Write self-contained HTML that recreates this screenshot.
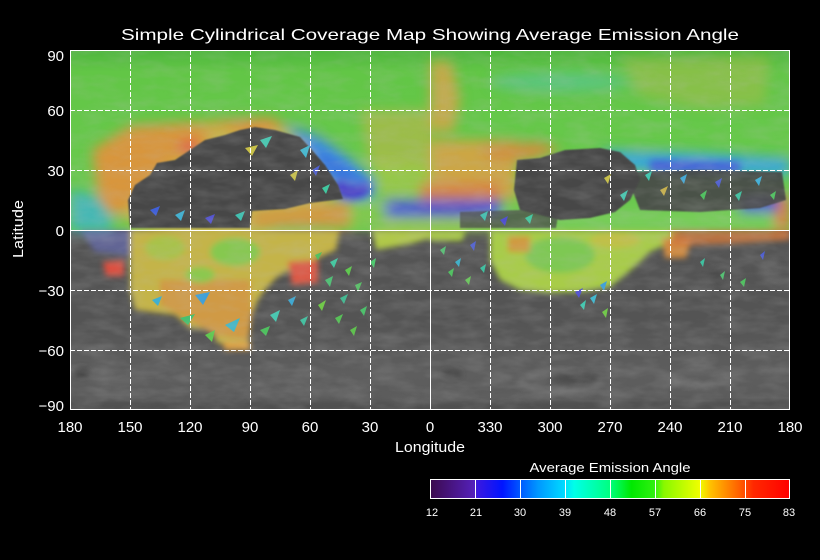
<!DOCTYPE html>
<html><head><meta charset="utf-8"><style>
html,body{margin:0;padding:0;background:#000;}
svg{display:block;}
text{font-family:"Liberation Sans",sans-serif;fill:#fff;}
</style></head><body>
<svg width="820" height="560" viewBox="0 0 820 560" xmlns="http://www.w3.org/2000/svg">
<defs>
<clipPath id="pc"><rect x="70" y="50" width="720" height="360"/></clipPath>
<filter id="b6" x="-20%" y="-20%" width="140%" height="140%"><feGaussianBlur stdDeviation="6"/></filter>
<filter id="b4" x="-20%" y="-20%" width="140%" height="140%"><feGaussianBlur stdDeviation="4"/></filter>
<filter id="b3" x="-20%" y="-20%" width="140%" height="140%"><feGaussianBlur stdDeviation="3"/></filter>
<filter id="b1"><feGaussianBlur stdDeviation="0.8"/></filter>
<filter id="noise" x="0" y="0" width="100%" height="100%">
<feTurbulence type="fractalNoise" baseFrequency="0.035 0.09" numOctaves="3" seed="4"/>
<feColorMatrix type="matrix" values="0 0 0 0 0.5  0 0 0 0 0.5  0 0 0 0 0.5  0 0 1.6 0 -0.55"/>
</filter>
<linearGradient id="gtop" x1="0" y1="0" x2="0" y2="1">
<stop offset="0" stop-color="#4fb63e"/>
<stop offset="0.12" stop-color="#62c646"/>
<stop offset="0.6" stop-color="#68c94c"/>
<stop offset="1" stop-color="#6cc850"/>
</linearGradient>
<linearGradient id="gray" x1="0" y1="0" x2="0" y2="1">
<stop offset="0" stop-color="#575757"/>
<stop offset="0.75" stop-color="#545454"/>
<stop offset="0.9" stop-color="#5e5e5e"/>
<stop offset="1" stop-color="#5a5a5a"/>
</linearGradient>
<linearGradient id="cb" x1="0" y1="0" x2="1" y2="0">
<stop offset="0" stop-color="#3c0a4e"/>
<stop offset="0.12" stop-color="#5420b8"/>
<stop offset="0.13" stop-color="#3a18e0"/>
<stop offset="0.2" stop-color="#0014ff"/>
<stop offset="0.25" stop-color="#0058ff"/>
<stop offset="0.3" stop-color="#0098ff"/>
<stop offset="0.37" stop-color="#00d8ff"/>
<stop offset="0.4" stop-color="#00ffe8"/>
<stop offset="0.5" stop-color="#00ff80"/>
<stop offset="0.56" stop-color="#00e800"/>
<stop offset="0.625" stop-color="#30f010"/>
<stop offset="0.65" stop-color="#88f800"/>
<stop offset="0.75" stop-color="#f0ff00"/>
<stop offset="0.78" stop-color="#ffc000"/>
<stop offset="0.86" stop-color="#ff6000"/>
<stop offset="0.9" stop-color="#ff2800"/>
<stop offset="1" stop-color="#ff0000"/>
</linearGradient>
</defs>

<rect x="0" y="0" width="820" height="560" fill="#000"/>

<g clip-path="url(#pc)">
<rect x="70" y="50" width="720" height="360" fill="url(#gray)"/>
<g filter="url(#b3)" opacity="0.7">
<ellipse cx="560" cy="382" rx="40" ry="9" fill="none" stroke="#7c7c7c" stroke-width="4"/>
<ellipse cx="700" cy="378" rx="28" ry="7" fill="none" stroke="#747474" stroke-width="3"/>
<ellipse cx="120" cy="380" rx="30" ry="4" fill="#6c6c6c"/>
<ellipse cx="300" cy="392" rx="60" ry="4" fill="#686868"/>
<ellipse cx="470" cy="398" rx="90" ry="4" fill="#626262"/>
<ellipse cx="82" cy="372" rx="8" ry="5" fill="#333"/>
<ellipse cx="452" cy="374" rx="10" ry="4" fill="#3c3c3c"/>
<ellipse cx="575" cy="378" rx="25" ry="6" fill="#444"/>
<ellipse cx="720" cy="276" rx="14" ry="8" fill="#4a4a4a"/>
<ellipse cx="770" cy="270" rx="12" ry="10" fill="#666"/>
<rect x="70" y="402" width="720" height="8" fill="#4a4a4a"/>
</g>

<rect x="70" y="50" width="720" height="181" fill="url(#gtop)"/>

<g filter="url(#b6)">
<ellipse cx="215" cy="180" rx="120" ry="58" fill="#c4b64a"/>
<polygon points="92,150 130,126 195,122 215,134 175,160 145,190 122,215 100,212" fill="#d8963e"/>
<polygon points="285,124 322,138 352,160 374,180 374,198 345,200 325,180 305,150" fill="#3f8ee0"/>
<polygon points="383,200 500,200 505,218 383,218" fill="#4a58d4"/>
<ellipse cx="450" cy="209" rx="35" ry="6" fill="#5040c8"/>
<polygon points="252,211 290,208 343,200 352,203 352,228 252,228" fill="#d09a44"/>
<polygon points="350,200 385,200 385,228 350,228" fill="#80c850"/>
<polygon points="383,217 500,217 500,230 383,230" fill="#98c850"/>
<polygon points="70,190 96,195 112,216 112,231 70,231" fill="#44b8b4"/>
<polygon points="360,110 430,110 430,168 370,170" fill="#b4b84a" opacity="0.7"/>
<polygon points="372,160 430,165 430,198 378,196" fill="#a8c84a" opacity="0.7"/>
<polygon points="430,140 517,140 517,200 430,198" fill="#cca644"/>
<polygon points="420,184 500,182 500,199 420,199" fill="#d8803f"/>
<polygon points="430,60 452,62 460,100 454,132 430,132" fill="#c2aa48"/>
<polygon points="620,58 770,55 765,105 700,108 640,96" fill="#a6bc4a" opacity="0.55"/>
<ellipse cx="560" cy="82" rx="70" ry="10" fill="#58c4a2" opacity="0.6"/>
<polygon points="480,145 540,142 562,150 530,160 490,160" fill="#d09040"/>
<polygon points="600,150 700,153 790,158 790,176 700,173 630,171 610,160" fill="#3aa8d8"/>
<polygon points="500,210 790,210 790,231 500,231" fill="#78cc5a"/>
<polygon points="775,195 790,195 790,231 775,231" fill="#d88040"/>
<polygon points="740,195 778,195 778,212 740,212" fill="#5050d0"/>
<polygon points="200,122 270,118 290,128 250,134" fill="#e08c40"/>
<ellipse cx="190" cy="148" rx="12" ry="8" fill="#e0604a"/>
</g>
<g filter="url(#b4)">
<ellipse cx="352" cy="188" rx="18" ry="11" fill="#4e40c8"/>
<polygon points="318,150 345,165 368,185 350,185 325,170" fill="#3a78dc"/>
<polygon points="650,160 740,162 740,172 650,172" fill="#4a60d8"/>
</g>

<g filter="url(#b3)">
<polygon points="130,230 340,230 336,250 318,258 310,263 290,270 277,277 265,290 258,300 252,315 250,330 248,343 235,345 217,343 212,330 190,328 175,315 150,312 135,310 130,290" fill="#c4b448"/>
<polygon points="160,280 250,280 252,315 248,340 215,335 185,318 160,305" fill="#d09a44"/>
<ellipse cx="235" cy="252" rx="25" ry="14" fill="#86c850"/>
<ellipse cx="165" cy="248" rx="20" ry="12" fill="#a8c248"/>
<ellipse cx="200" cy="275" rx="15" ry="8" fill="#8cc850"/>
<polygon points="288,262 318,260 318,283 292,285" fill="#dc5844"/>
<polygon points="103,262 124,260 124,276 106,276" fill="#dc5040"/>
<polygon points="80,230 130,230 130,256 95,252" fill="#6a72c0" opacity="0.6"/>
<polygon points="372,230 430,230 430,238 410,244 376,250" fill="#b0c848"/>
<polygon points="490,230 680,230 670,243 650,252 640,262 625,275 610,287 580,292 550,293 520,290 500,280 490,260" fill="#a8cc4a"/>
<ellipse cx="560" cy="255" rx="35" ry="18" fill="#7ec852"/>
<ellipse cx="615" cy="240" rx="25" ry="8" fill="#c0c048"/>
<polygon points="508,236 530,236 530,252 508,252" fill="#d09a40"/>
<polygon points="662,238 692,238 686,258 665,258" fill="#d08a40"/>
<polygon points="430,230 466,230 462,241 430,241" fill="#a8c848"/>
<polygon points="670,230 790,230 790,240 730,244 672,246" fill="#d07840" opacity="0.8"/>
<polygon points="222,342 250,342 250,350 225,350" fill="#e0a040"/>
</g>

<g filter="url(#b1)">
<polygon points="128,200 135,185 150,175 157,163 175,160 190,150 205,140 225,135 240,130 255,127 275,130 300,137 312,150 325,165 338,185 343,199 310,203 285,209 252,211 250,228 200,228 160,228 130,228" fill="#474747"/>
<polygon points="517,160 540,158 565,150 600,148 620,152 635,165 640,180 630,200 615,212 590,218 560,220 540,215 520,210 514,190" fill="#464646"/>
<polygon points="625,172 700,170 782,172 786,200 760,208 700,212 640,210" fill="#474747" opacity="0.92"/>
<polygon points="460,212 520,210 558,216 556,228 460,228" fill="#4b4b4b" opacity="0.75"/>
</g>

<g>
<polygon points="315,255 322,252 318,260" fill="#50c060"/>
<polygon points="330,262 338,258 334,268" fill="#40c8a0"/>
<polygon points="345,270 352,266 349,276" fill="#60c850"/>
<polygon points="325,280 333,276 330,287" fill="#48c070"/>
<polygon points="355,285 362,282 358,292" fill="#50c060"/>
<polygon points="340,298 348,294 344,304" fill="#40b890"/>
<polygon points="318,305 326,300 322,311" fill="#70c848"/>
<polygon points="360,310 367,306 364,316" fill="#48c068"/>
<polygon points="335,318 343,314 339,324" fill="#58c058"/>
<polygon points="350,330 357,326 354,336" fill="#60c050"/>
<polygon points="300,320 308,316 304,326" fill="#40c0a0"/>
<polygon points="370,262 376,258 374,268" fill="#50c870"/>
<polygon points="288,300 296,296 292,306" fill="#40a8d0"/>
<polygon points="270,315 280,310 276,322" fill="#40c8b0"/>
<polygon points="260,330 270,326 266,336" fill="#50c060"/>
<polygon points="195,295 210,292 203,305" fill="#40a0d8"/>
<polygon points="180,318 195,314 188,325" fill="#48c070"/>
<polygon points="225,325 240,318 234,332" fill="#40b8c8"/>
<polygon points="205,335 215,330 212,342" fill="#60c850"/>
<polygon points="152,300 162,296 158,306" fill="#40b0d0"/>
<polygon points="440,250 446,246 444,255" fill="#50c070"/>
<polygon points="455,262 461,258 459,267" fill="#40b0c8"/>
<polygon points="470,245 476,241 474,251" fill="#5060d0"/>
<polygon points="448,272 454,268 452,277" fill="#50c060"/>
<polygon points="480,268 486,264 484,273" fill="#40c0a0"/>
<polygon points="465,280 471,276 469,285" fill="#60c850"/>
<polygon points="575,292 583,288 579,298" fill="#5050d0"/>
<polygon points="590,298 597,294 594,304" fill="#40b8d0"/>
<polygon points="600,285 607,281 604,291" fill="#40a0d8"/>
<polygon points="602,312 608,308 606,318" fill="#70c848"/>
<polygon points="580,305 586,300 584,310" fill="#40c8b0"/>
<polygon points="700,262 705,258 703,267" fill="#40c0a0"/>
<polygon points="740,282 746,278 744,287" fill="#50c060"/>
<polygon points="760,255 765,251 763,260" fill="#5060d0"/>
<polygon points="720,275 725,271 723,280" fill="#50c070"/>
<polygon points="645,175 652,171 649,181" fill="#40c8b0"/>
<polygon points="660,190 668,186 664,196" fill="#c8b048"/>
<polygon points="680,178 687,174 684,184" fill="#40a8d8"/>
<polygon points="700,195 707,190 704,200" fill="#50c060"/>
<polygon points="715,182 722,178 719,188" fill="#5060d0"/>
<polygon points="735,195 742,191 739,201" fill="#40c0a0"/>
<polygon points="755,180 762,176 759,186" fill="#40b0d8"/>
<polygon points="770,195 776,191 774,200" fill="#50c060"/>
<polygon points="620,195 628,190 624,201" fill="#40c8b0"/>
<polygon points="604,178 611,174 608,184" fill="#c8c048"/>
<polygon points="300,150 310,145 306,158" fill="#40b8d0"/>
<polygon points="312,170 320,165 316,176" fill="#5060d0"/>
<polygon points="322,188 330,184 326,194" fill="#40c8a0"/>
<polygon points="290,175 298,170 295,181" fill="#c8c048"/>
<polygon points="260,140 272,136 266,148" fill="#40c8b0"/>
<polygon points="245,148 258,145 252,156" fill="#c8c048"/>
<polygon points="150,210 160,206 156,216" fill="#4060d8"/>
<polygon points="175,215 185,210 181,221" fill="#40b0d0"/>
<polygon points="205,218 215,214 211,224" fill="#5050d0"/>
<polygon points="235,215 245,211 241,221" fill="#40c0b0"/>
<polygon points="480,215 488,211 485,221" fill="#40c0b0"/>
<polygon points="500,220 508,216 505,226" fill="#5050d0"/>
<polygon points="525,218 533,214 530,224" fill="#40c8a0"/>
</g>

<rect x="70" y="50" width="720" height="360" filter="url(#noise)" opacity="0.22"/>

<g stroke="#fff" stroke-width="1" fill="none">
<g stroke-dasharray="5,2">
<line x1="130.5" y1="50" x2="130.5" y2="410"/>
<line x1="190.5" y1="50" x2="190.5" y2="410"/>
<line x1="250.5" y1="50" x2="250.5" y2="410"/>
<line x1="310.5" y1="50" x2="310.5" y2="410"/>
<line x1="370.5" y1="50" x2="370.5" y2="410"/>
<line x1="490.5" y1="50" x2="490.5" y2="410"/>
<line x1="550.5" y1="50" x2="550.5" y2="410"/>
<line x1="610.5" y1="50" x2="610.5" y2="410"/>
<line x1="670.5" y1="50" x2="670.5" y2="410"/>
<line x1="730.5" y1="50" x2="730.5" y2="410"/>
<line x1="70" y1="110.5" x2="790" y2="110.5"/>
<line x1="70" y1="170.5" x2="790" y2="170.5"/>
<line x1="70" y1="290.5" x2="790" y2="290.5"/>
<line x1="70" y1="350.5" x2="790" y2="350.5"/>
</g>
<line x1="430.5" y1="50" x2="430.5" y2="410"/>
<line x1="70" y1="230.5" x2="790" y2="230.5"/>
</g>
</g>

<rect x="70.5" y="50.5" width="719" height="359" fill="none" stroke="#fff" stroke-width="1"/>

<text x="430" y="40" font-size="16" text-anchor="middle" textLength="618" lengthAdjust="spacingAndGlyphs">Simple Cylindrical Coverage Map Showing Average Emission Angle</text>

<g font-size="15" text-anchor="end">
<text x="64" y="61">90</text>
<text x="64" y="116">60</text>
<text x="64" y="176">30</text>
<text x="64" y="236">0</text>
<text x="64" y="296">−30</text>
<text x="64" y="356">−60</text>
<text x="64" y="411">−90</text>
</g>
<g font-size="15" text-anchor="middle">
<text x="70" y="432">180</text>
<text x="130" y="432">150</text>
<text x="190" y="432">120</text>
<text x="250" y="432">90</text>
<text x="310" y="432">60</text>
<text x="370" y="432">30</text>
<text x="430" y="432">0</text>
<text x="490" y="432">330</text>
<text x="550" y="432">300</text>
<text x="610" y="432">270</text>
<text x="670" y="432">240</text>
<text x="730" y="432">210</text>
<text x="790" y="432">180</text>
</g>
<text x="430" y="452" font-size="15" text-anchor="middle" textLength="70" lengthAdjust="spacingAndGlyphs">Longitude</text>
<text x="0" y="0" font-size="15" text-anchor="middle" transform="translate(23,229) rotate(-90)" textLength="58" lengthAdjust="spacingAndGlyphs">Latitude</text>

<text x="610" y="472" font-size="13" text-anchor="middle" textLength="161" lengthAdjust="spacingAndGlyphs">Average Emission Angle</text>
<rect x="430.5" y="479.5" width="359" height="19" fill="url(#cb)" stroke="#fff" stroke-width="1"/>
<g stroke="#fff" stroke-width="1">
<line x1="475.5" y1="480" x2="475.5" y2="499"/>
<line x1="520.5" y1="480" x2="520.5" y2="499"/>
<line x1="565.5" y1="480" x2="565.5" y2="499"/>
<line x1="610.5" y1="480" x2="610.5" y2="499"/>
<line x1="655.5" y1="480" x2="655.5" y2="499"/>
<line x1="700.5" y1="480" x2="700.5" y2="499"/>
<line x1="745.5" y1="480" x2="745.5" y2="499"/>
</g>
<g font-size="11" text-anchor="middle">
<text x="432" y="516">12</text>
<text x="476" y="516">21</text>
<text x="520" y="516">30</text>
<text x="565" y="516">39</text>
<text x="610" y="516">48</text>
<text x="655" y="516">57</text>
<text x="700" y="516">66</text>
<text x="745" y="516">75</text>
<text x="789" y="516">83</text>
</g>
</svg>
</body></html>
